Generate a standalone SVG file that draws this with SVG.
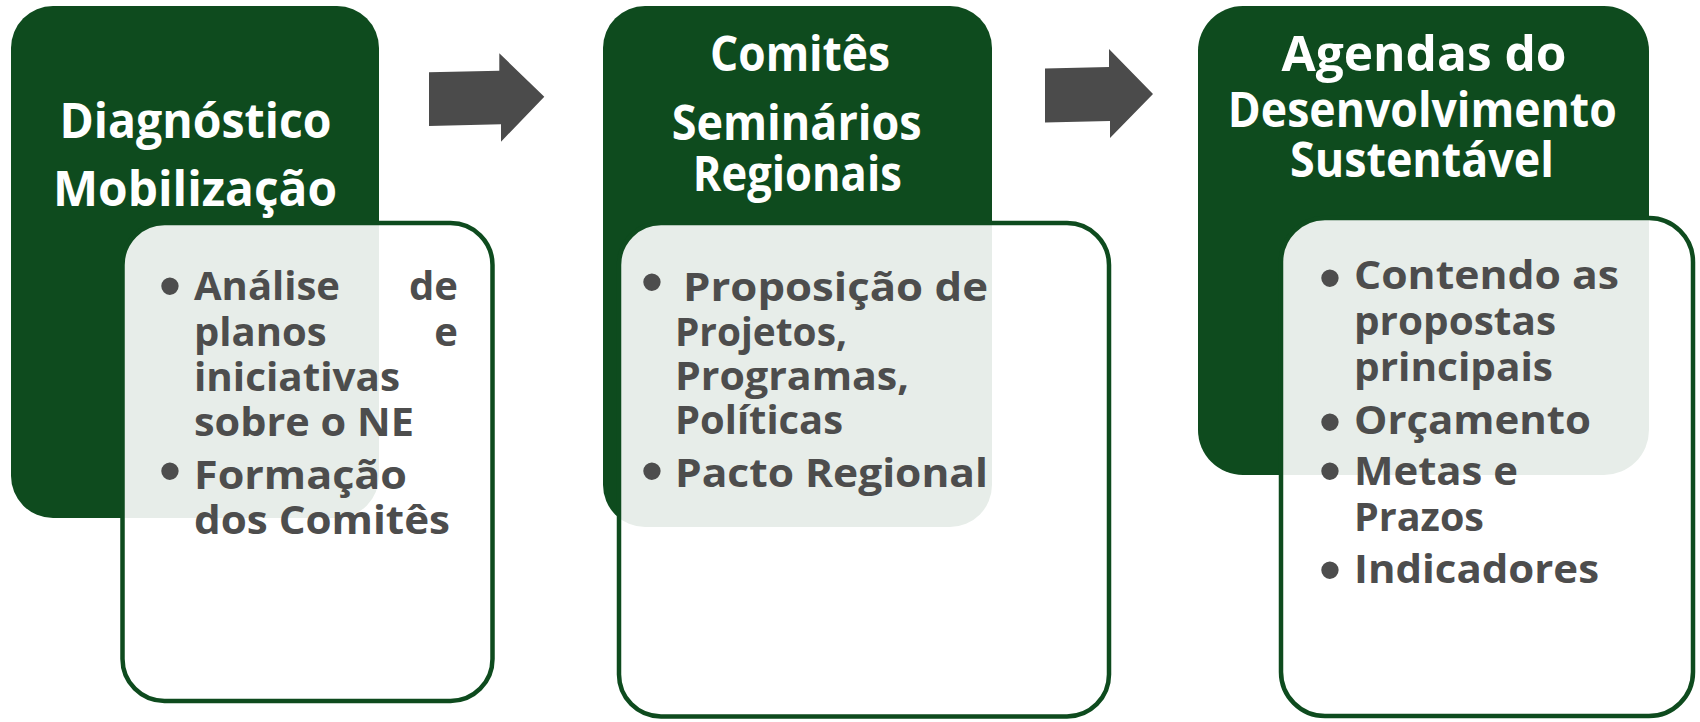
<svg xmlns="http://www.w3.org/2000/svg" width="1700" height="722" viewBox="0 0 1700 722">
<style>
.dark{fill:#0e4b1e}
.card{fill:#ffffff;fill-opacity:0.9;stroke:#0e4b1e;stroke-width:4.5}
.t{font-family:"Open Sans","Liberation Sans",sans-serif;font-weight:700;font-size:48px;fill:#ffffff;text-anchor:middle}
.b{font-family:"Open Sans","Liberation Sans",sans-serif;font-weight:700;font-size:40px;fill:#4d4d4d}
.bul{font-family:"Liberation Sans",sans-serif;font-size:64px;fill:#4d4d4d;text-anchor:middle}
.arrow{fill:#4b4b4b}
</style>
<rect width="1700" height="722" fill="#ffffff"/>
<g id="connectors">
<polygon class="arrow" points="429,72.3 499.3,70.7 499.3,53.3 544.3,96.7 501,141.7 501,124.3 429,126"/>
<polygon class="arrow" points="1045,68.5 1109,67 1109,49 1153,94 1110,138 1110,121 1045,122.5"/>
</g>
<g id="node1">
<rect class="dark" x="11" y="6" width="368" height="512" rx="42"/>
<text class="t" x="195.5" y="138.3" textLength="272" lengthAdjust="spacingAndGlyphs">Diagnóstico</text>
<text class="t" x="195" y="206" textLength="284" lengthAdjust="spacingAndGlyphs">Mobilização</text>
<rect class="card" x="122.5" y="223" width="370" height="478" rx="42"/>
<text class="bul" x="170" y="307.6">•</text>
<text class="b" y="300"><tspan x="194">Análise</tspan><tspan x="458" text-anchor="end">de</tspan></text>
<text class="b" y="345.5"><tspan x="194">planos</tspan><tspan x="458" text-anchor="end">e</tspan></text>
<text class="b" x="194" y="391" textLength="206" lengthAdjust="spacingAndGlyphs">iniciativas</text>
<text class="b" x="194" y="436" textLength="220" lengthAdjust="spacingAndGlyphs">sobre o NE</text>
<text class="bul" x="170" y="492.6">•</text>
<text class="b" x="194" y="488.5" textLength="213" lengthAdjust="spacingAndGlyphs">Formação</text>
<text class="b" x="194" y="534" textLength="256" lengthAdjust="spacingAndGlyphs">dos Comitês</text>
</g>
<g id="node2">
<rect class="dark" x="603" y="6" width="389" height="521" rx="42"/>
<text class="t" x="800" y="71" textLength="180" lengthAdjust="spacingAndGlyphs">Comitês</text>
<text class="t" x="796.7" y="139.5" textLength="250" lengthAdjust="spacingAndGlyphs">Seminários</text>
<text class="t" x="797.3" y="190.5" textLength="209" lengthAdjust="spacingAndGlyphs">Regionais</text>
<rect class="card" x="619" y="223" width="490" height="493.5" rx="42"/>
<text class="bul" x="652" y="303.6">•</text>
<text class="b" x="683" y="301" textLength="305" lengthAdjust="spacingAndGlyphs">Proposição de</text>
<text class="b" x="675" y="346" textLength="172" lengthAdjust="spacingAndGlyphs">Projetos,</text>
<text class="b" x="675" y="390" textLength="234" lengthAdjust="spacingAndGlyphs">Programas,</text>
<text class="b" x="675" y="434" textLength="168" lengthAdjust="spacingAndGlyphs">Políticas</text>
<text class="bul" x="652" y="492.6">•</text>
<text class="b" x="675" y="487" textLength="313" lengthAdjust="spacingAndGlyphs">Pacto Regional</text>
</g>
<g id="node3">
<rect class="dark" x="1198" y="6" width="451" height="469" rx="45"/>
<text class="t" x="1424" y="71" textLength="285" lengthAdjust="spacingAndGlyphs">Agendas do</text>
<text class="t" x="1422.3" y="126.5" textLength="389" lengthAdjust="spacingAndGlyphs">Desenvolvimento</text>
<text class="t" x="1422" y="176.5" textLength="264" lengthAdjust="spacingAndGlyphs">Sustentável</text>
<rect class="card" x="1281" y="218" width="412" height="498" rx="44"/>
<text class="bul" x="1330" y="299.6">•</text>
<text class="b" x="1354" y="289.3" textLength="265" lengthAdjust="spacingAndGlyphs">Contendo as</text>
<text class="b" x="1354" y="335" textLength="202" lengthAdjust="spacingAndGlyphs">propostas</text>
<text class="b" x="1354" y="380.7" textLength="199" lengthAdjust="spacingAndGlyphs">principais</text>
<text class="bul" x="1330" y="443.6">•</text>
<text class="b" x="1354" y="434" textLength="237" lengthAdjust="spacingAndGlyphs">Orçamento</text>
<text class="bul" x="1330" y="492.6">•</text>
<text class="b" x="1354" y="484.5" textLength="164" lengthAdjust="spacingAndGlyphs">Metas e</text>
<text class="b" x="1354" y="531" textLength="130" lengthAdjust="spacingAndGlyphs">Prazos</text>
<text class="bul" x="1330" y="591.6">•</text>
<text class="b" x="1354" y="582.5" textLength="245" lengthAdjust="spacingAndGlyphs">Indicadores</text>
</g>
</svg>
